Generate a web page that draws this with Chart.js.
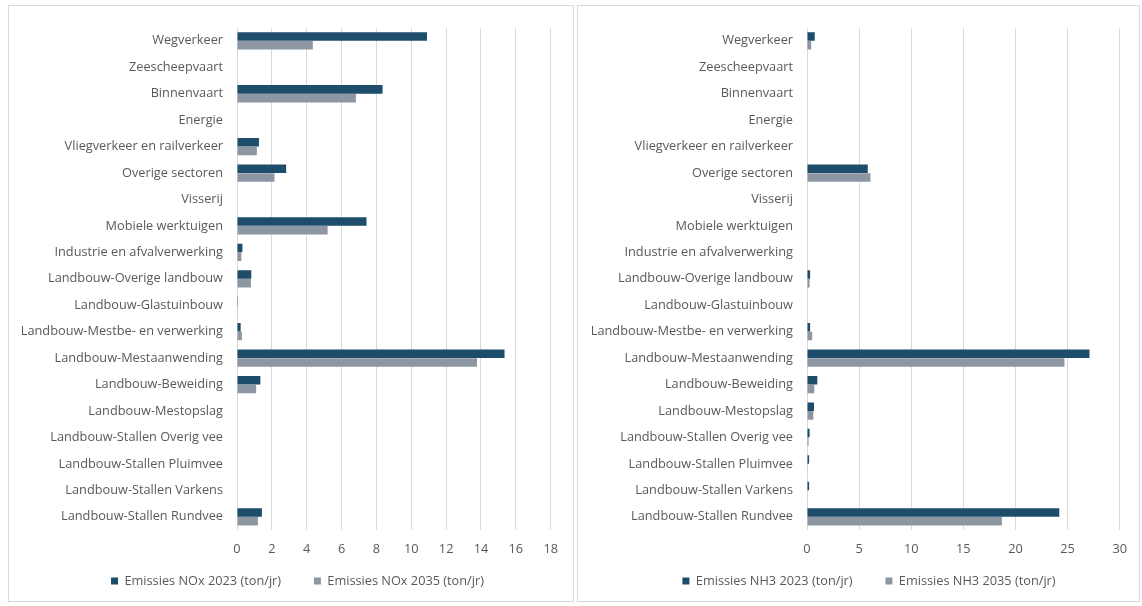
<!DOCTYPE html>
<html>
<head>
<meta charset="utf-8">
<script src="https://cdn.jsdelivr.net/npm/chart.js@4/dist/chart.umd.min.js"></script>
<style>
  html, body { margin: 0; padding: 0; background: #ffffff; }
  body { width: 1142px; height: 606px; position: relative; overflow: hidden; }
  .panel { position: absolute; top: 5px; height: 597px; border: 1px solid #d9d9d9; box-sizing: border-box; background: #fff; }
  #p1 { left: 8px; width: 566px; }
  #p2 { left: 577px; width: 563px; }
  .holder { position: absolute; top: 6px; height: 596px; }
  #h1 { left: 9px; width: 561px; }
  #h2 { left: 579px; width: 560px; }
  .holder canvas { display: block; }
</style>
</head>
<body>
<div class="panel" id="p1"></div>
<div class="panel" id="p2"></div>
<div class="holder" id="h1"><canvas id="c1"></canvas></div>
<div class="holder" id="h2"><canvas id="c2"></canvas></div>
<script>
// Emission sources (same order in both charts)
const categories = [
  "Wegverkeer",
  "Zeescheepvaart",
  "Binnenvaart",
  "Energie",
  "Vliegverkeer en railverkeer",
  "Overige sectoren",
  "Visserij",
  "Mobiele werktuigen",
  "Industrie en afvalverwerking",
  "Landbouw-Overige landbouw",
  "Landbouw-Glastuinbouw",
  "Landbouw-Mestbe- en verwerking",
  "Landbouw-Mestaanwending",
  "Landbouw-Beweiding",
  "Landbouw-Mestopslag",
  "Landbouw-Stallen Overig vee",
  "Landbouw-Stallen Pluimvee",
  "Landbouw-Stallen Varkens",
  "Landbouw-Stallen Rundvee"
];

// NOx emissions (ton/jr)
const nox2023 = [10.9, 0, 8.35, 0, 1.26, 2.82, 0, 7.43, 0.31, 0.82, 0.05, 0.21, 15.35, 1.34, 0, 0, 0, 0, 1.43];
const nox2035 = [4.35, 0, 6.82, 0, 1.14, 2.15, 0, 5.2, 0.25, 0.8, 0.04, 0.28, 13.77, 1.1, 0, 0, 0, 0, 1.2];

// NH3 emissions (ton/jr)
const nh3_2023 = [0.74, 0, 0, 0, 0, 5.83, 0, 0, 0, 0.3, 0, 0.3, 27.1, 0.99, 0.67, 0.25, 0.2, 0.2, 24.2];
const nh3_2035 = [0.4, 0, 0, 0, 0, 6.08, 0, 0, 0, 0.25, 0, 0.5, 24.7, 0.7, 0.6, 0.15, 0.05, 0.05, 18.7];

// Axis settings
const noxMax = 18, noxStep = 2;
const nh3Max = 30, nh3Step = 5;

const darkColor = "#1e4d6b";
const greyColor = "#8d97a3";
const textColor = "#595959";
const gridColor = "#d9d9d9";
const fontFamily = "'Open Sans', Lato, sans-serif";
const fontSize = 12.75;

// Nudges the legend sideways after layout
const legendShift = {
  id: "legendShift",
  afterLayout(chart, args, opts) {
    const lg = chart.legend;
    if (lg && opts.dx) { lg.left += opts.dx; lg.right += opts.dx; }
  }
};

// Default legend items, with extra spacing after the first entry
function spacedLabels(chart) {
  const items = Chart.defaults.plugins.legend.labels.generateLabels(chart);
  if (items.length) items[0].text = items[0].text + "\u2002\u2002\u2009";
  return items;
}

function makeChart(id, labelA, dataA, labelB, dataB, xMax, xStep, legendDx) {
  return new Chart(document.getElementById(id), {
    type: "bar",
    data: {
      labels: categories,
      datasets: [
        { label: labelA, data: dataA, backgroundColor: darkColor, borderWidth: 0,
          categoryPercentage: 0.66, barPercentage: 0.98 },
        { label: labelB, data: dataB, backgroundColor: greyColor, borderWidth: 0,
          categoryPercentage: 0.66, barPercentage: 0.98 }
      ]
    },
    plugins: [legendShift],
    options: {
      indexAxis: "y",
      responsive: true,
      maintainAspectRatio: false,
      animation: false,
      layout: { padding: { top: 19, right: 18, bottom: 4.65, left: 0 } },
      scales: {
        x: {
          min: 0, max: xMax,
          ticks: { stepSize: xStep, color: textColor, font: { family: fontFamily, size: fontSize }, padding: 12 },
          grid: { color: gridColor, lineWidth: 1, drawTicks: false },
          border: { display: false },
          afterFit: (axis) => { axis.height = 26.6; }
        },
        y: {
          ticks: { color: textColor, font: { family: fontFamily, size: fontSize }, padding: 14, autoSkip: false },
          grid: { display: false, drawTicks: false },
          border: { display: false },
          afterFit: (axis) => { axis.width = 228; }
        }
      },
      plugins: {
        legend: {
          position: "bottom",
          labels: {
            color: textColor,
            font: { family: fontFamily, size: fontSize },
            boxWidth: 7, boxHeight: 7,
            padding: 18,
            generateLabels: spacedLabels
          }
        },
        legendShift: { dx: legendDx },
        tooltip: { enabled: false }
      }
    }
  });
}

makeChart("c1", "Emissies NOx 2023 (ton/jr)", nox2023, "Emissies NOx 2035 (ton/jr)", nox2035, noxMax, noxStep, 17);
makeChart("c2", "Emissies NH3 2023 (ton/jr)", nh3_2023, "Emissies NH3 2035 (ton/jr)", nh3_2035, nh3Max, nh3Step, 19);
</script>
</body>
</html>
